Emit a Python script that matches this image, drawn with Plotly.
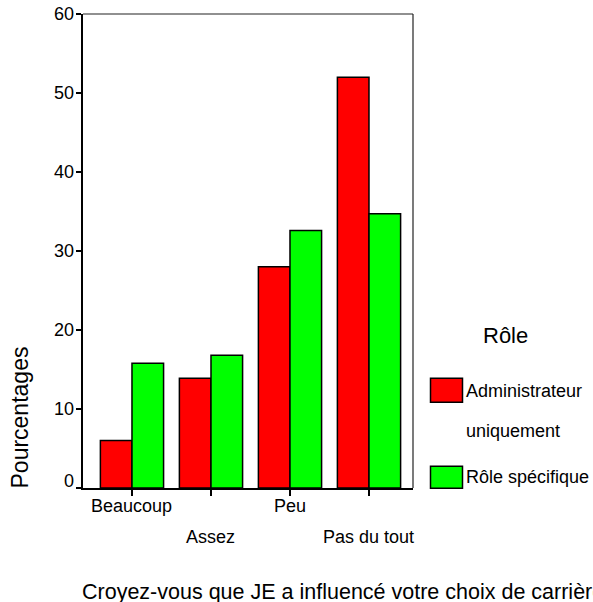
import plotly.graph_objects as go

categories = ["Beaucoup", "Assez", "Peu", "Pas du tout"]
series_names = ["Administrateur uniquement", "Rôle spécifique"]
admin_values = [6.0, 13.9, 28.0, 52.0]
specific_values = [15.8, 16.8, 32.6, 34.7]
colors = ["#FF0000", "#00FF00"]
y_ticks = [0, 10, 20, 30, 40, 50, 60]

FONT = "Liberation Sans, Arial, sans-serif"
xpos = list(range(len(categories)))

W, H = 593, 602
L, R, T, B = 83, 413, 14, 487.7   # plot area in page pixels

fig = go.Figure()
for name, vals, col in zip(series_names, [admin_values, specific_values], colors):
    fig.add_trace(go.Bar(
        x=xpos, y=vals, name=name,
        marker=dict(color=col, line=dict(color="black", width=1.5)),
        showlegend=False, hoverinfo="skip",
    ))

fig.update_layout(
    width=W, height=H,
    margin=dict(l=L, r=W - R, t=T, b=H - B, autoexpand=False),
    paper_bgcolor="white", plot_bgcolor="white",
    barmode="group", bargap=0.2, bargroupgap=0,
    font=dict(family=FONT, size=18, color="black"),
    xaxis=dict(
        range=[-0.62, 3.557], tickvals=xpos, showticklabels=False, automargin=False,
        ticks="outside", ticklen=6, tickwidth=1.5, tickcolor="black",
        showline=True, linecolor="black", linewidth=2,
        showgrid=False, zeroline=False, fixedrange=True,
    ),
    yaxis=dict(
        range=[0, 60], tickvals=y_ticks, showticklabels=False, automargin=False,
        ticks="outside", ticklen=5, tickwidth=1.5, tickcolor="black",
        showline=True, linecolor="black", linewidth=2,
        showgrid=False, zeroline=False, fixedrange=True,
    ),
)

# thin frame (top & right)
fig.add_shape(type="line", xref="paper", yref="paper", x0=0, x1=1, y0=1, y1=1,
              line=dict(color="#222", width=1.2))
fig.add_shape(type="line", xref="paper", yref="paper", x0=1, x1=1, y0=0, y1=1,
              line=dict(color="#222", width=1.2))

# y tick labels
for v in y_ticks:
    fig.add_annotation(x=0, xref="paper", y=v, yref="y", text=str(v), showarrow=False,
                       xanchor="right", yanchor="middle", xshift=-7,
                       yshift=7 if v == 0 else 0, font=dict(size=18))

# staggered category labels
for i, cat in enumerate(categories):
    fig.add_annotation(x=i, xref="x", y=0, yref="paper", text=cat, showarrow=False,
                       xanchor="center", yanchor="middle",
                       yshift=-17.5 if i % 2 == 0 else -48.5,
                       font=dict(size=18))

# axis titles
fig.add_annotation(x=0, xref="paper", y=0, yref="paper", xanchor="left", yanchor="middle",
                   text="Croyez-vous que JE a influencé votre choix de carrière ?",
                   showarrow=False, xshift=-3, yshift=-103.5, font=dict(size=21.5))
fig.add_annotation(x=0, xref="paper", y=0, yref="paper", xanchor="center", yanchor="middle",
                   text="Pourcentages", textangle=-90, showarrow=False,
                   xshift=-63.5, yshift=70, font=dict(size=23))

# legend (manual), positions in page pixels
def px_x(p):
    return (p - L) / (R - L)
def px_y(p):
    return (B - p) / (B - T)

fig.add_annotation(x=px_x(505), y=px_y(335), xref="paper", yref="paper", text="Rôle",
                   showarrow=False, xanchor="center", yanchor="middle", font=dict(size=22))
legend_rows = [(378, 402, ["Administrateur", "uniquement"], [391, 431]),
               (466, 488, ["Rôle spécifique"], [477])]
for (y0, y1, lines, ys), col in zip(legend_rows, colors):
    fig.add_shape(type="rect", xref="paper", yref="paper",
                  x0=px_x(430.5), x1=px_x(462.5), y0=px_y(y1), y1=px_y(y0),
                  fillcolor=col, line=dict(color="black", width=1.5))
    for t, yy in zip(lines, ys):
        fig.add_annotation(x=px_x(466), y=px_y(yy), xref="paper", yref="paper", text=t,
                           showarrow=False, xanchor="left", yanchor="middle", xshift=-2,
                           font=dict(size=18))

fig.write_html(
    "out.html",
    config={"displayModeBar": False},
    post_script="document.body.style.margin='0';"
                "document.documentElement.style.overflow='hidden';",
)
